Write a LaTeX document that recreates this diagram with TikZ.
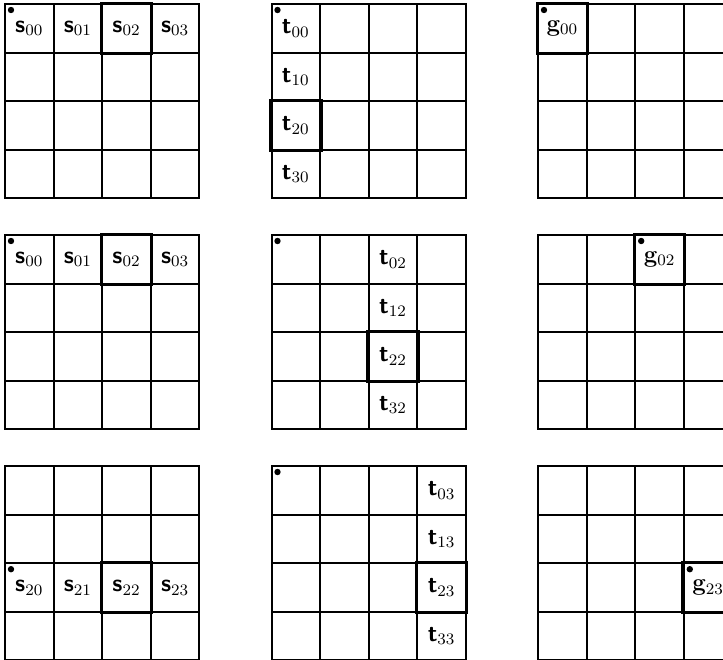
\documentclass[tikz,border=0pt]{standalone}
\usetikzlibrary{calc}
\tikzset{
  cell/.style={draw, line width=1pt, minimum size=24.3pt, inner sep=0pt, anchor=north west},
  hl/.style={draw, line width=1.5pt},
  dotmark/.style={circle, fill, inner sep=0pt, minimum size=3.2pt},
  lbl/.style={inner sep=0pt, font=\large}
}
\newcommand{\mygrid}[3]{%
  \foreach \r in {0,...,3}{\foreach \c in {0,...,3}{%
    \node[cell] (#1-\r-\c) at ({#2+\c*48.6},{#3+\r*48.6}) {};}}}
\newcommand{\Sv}{\textbf{\textsf{s}}}
\newcommand{\Tv}{\textbf{\textsf{t}}}
\begin{document}
\begin{tikzpicture}[x=0.5pt,y=-0.5pt]
\clip (0,0) rectangle (723,659);
\fill[white] (0,0) rectangle (723,659);
% row 1
\mygrid{A}{4}{3}
\mygrid{B}{270.5}{3}
\mygrid{C}{537}{3}
% row 2
\mygrid{D}{4}{234}
\mygrid{E}{270.5}{234}
\mygrid{F}{537}{234}
% row 3
\mygrid{G}{4}{465}
\mygrid{H}{270.5}{465}
\mygrid{K}{537}{465}
% labels row 1
\foreach \c in {0,...,3}{\node[lbl] (la\c) at (A-0-\c) {$\Sv_{0\c}$};}
\foreach \r in {0,...,3}{\node[lbl] (lb\r) at (B-\r-0) {$\Tv_{\r0}$};}
\node[lbl] (lc) at (C-0-0) {$\mathbf{g}_{00}$};
% labels row 2
\foreach \c in {0,...,3}{\node[lbl] (ld\c) at (D-0-\c) {$\Sv_{0\c}$};}
\foreach \r in {0,...,3}{\node[lbl] (le\r) at (E-\r-2) {$\Tv_{\r2}$};}
\node[lbl] (lf) at (F-0-2) {$\mathbf{g}_{02}$};
% labels row 3
\foreach \c in {0,...,3}{\node[lbl] (lg\c) at (G-2-\c) {$\Sv_{2\c}$};}
\foreach \r in {0,...,3}{\node[lbl] (lh\r) at (H-\r-3) {$\Tv_{\r3}$};}
\node[lbl] (lk) at (K-2-3) {$\mathbf{g}_{23}$};
% highlights
\foreach \n in {A-0-2,B-2-0,C-0-0,D-0-2,E-2-2,F-0-2,G-2-2,H-2-3,K-2-3}{
  \draw[hl] (\n.north west) rectangle (\n.south east);}
% dots
\foreach \n/\m in {A-0-0/da,B-0-0/db,C-0-0/dc,D-0-0/dd,E-0-0/de,F-0-2/df,G-2-0/dg,H-0-0/dh,K-2-3/dk}{
  \node[dotmark] (\m) at ([shift={(7,7)}]\n.north west) {};}
\end{tikzpicture}
\end{document}
